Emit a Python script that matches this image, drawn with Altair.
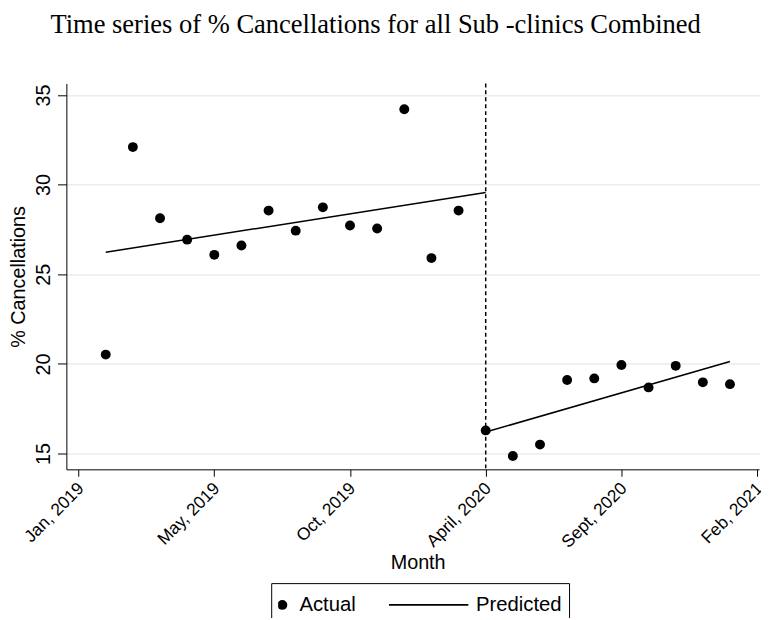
import altair as alt
import pandas as pd

# ---- data ----
month_index = list(range(1, 25))
pct_cancel = [20.52, 32.09, 28.12, 26.93, 26.08, 26.60, 28.55, 27.43, 28.73, 27.72,
              27.55, 34.20, 25.90, 28.55,
              16.29, 14.86, 15.50, 19.10, 19.19, 19.94, 18.69, 19.89, 18.97, 18.87]
pred_index = [1, 15, 15, 24]
pred_value = [26.23, 29.56, 16.20, 20.13]
pred_segment = ["Pre", "Pre", "Post", "Post"]
tick_positions = [0, 5, 10, 15, 20, 25]
tick_labels = ["Jan, 2019", "May, 2019", "Oct, 2019", "April, 2020", "Sept, 2020", "Feb, 2021"]
y_ticks = [15, 20, 25, 30, 35]
interruption = [15]
series_names = ["Actual", "Predicted"]

actual_df = pd.DataFrame({"month": month_index, "pct": pct_cancel,
                          "series": ["Actual"] * len(month_index)})
pred_df = pd.DataFrame({"month": pred_index, "pct": pred_value, "segment": pred_segment})
rule_df = pd.DataFrame({"month": interruption})

label_expr = ("[" + ",".join(f"'{t}'" for t in tick_labels) + "][indexof(["
              + ",".join(str(p) for p in tick_positions) + "], datum.value)]")

SANS = "Liberation Sans"
LINE_SYMBOL = "M-1,-0.02L1,-0.02L1,0.02L-1,0.02Z"

x_scale = alt.Scale(domain=[-0.45, 25.07], nice=False, zero=False)
y_scale = alt.Scale(domain=[14.12, 35.64], nice=False, zero=False)

x_axis = alt.Axis(values=tick_positions, labelExpr=label_expr, title="Month", grid=False,
                  labelAngle=315, labelAlign="right", labelBaseline="top", labelPadding=3,
                  labelOffset=-4, tickSize=7, labelFontSize=17.5, labelFont=SANS,
                  labelColor="black", titleFont=SANS, titleFontSize=20, titleFontWeight="normal",
                  titleColor="black", titleX=355, titleY=100, titleBaseline="alphabetic",
                  labelFlush=False, labelOverlap=False)
y_axis = alt.Axis(values=y_ticks, title="% Cancellations", grid=True, gridColor="#e6eef1",
                  gridWidth=1.5, labelAngle=270, labelAlign="center", labelBaseline="alphabetic",
                  labelPadding=8, tickSize=9, labelFontSize=20, labelFont=SANS, labelColor="black",
                  titleFont=SANS, titleFontSize=20, titleFontWeight="normal", titleColor="black",
                  titleAngle=270, titleX=-42, titleBaseline="alphabetic", labelFlush=False,
                  labelOverlap=False)

legend = alt.Legend(orient="none", legendX=207, legendY=505, direction="horizontal",
                    title=None, strokeColor="black", padding=7, labelFont=SANS,
                    labelFontSize=20.5, labelColor="black", labelOffset=7, columnPadding=33,
                    clipHeight=30, symbolOffset=-6, symbolFillColor="black")

rule = alt.Chart(rule_df).mark_rule(color="black", strokeDash=[4, 3], strokeWidth=1.5).encode(
    x=alt.X("month:Q", scale=x_scale, axis=x_axis)
)

lines = alt.Chart(pred_df).mark_line(color="black", strokeWidth=1.5).encode(
    x=alt.X("month:Q", scale=x_scale, axis=x_axis),
    y=alt.Y("pct:Q", scale=y_scale, axis=y_axis),
    detail="segment:N",
)

points = alt.Chart(actual_df).mark_point(filled=True, color="black", opacity=1).encode(
    x=alt.X("month:Q", scale=x_scale, axis=x_axis),
    y=alt.Y("pct:Q", scale=y_scale, axis=y_axis),
    shape=alt.Shape("series:N", scale=alt.Scale(domain=series_names, range=["circle", LINE_SYMBOL]),
                    legend=legend),
    size=alt.Size("series:N", scale=alt.Scale(domain=series_names, range=[100, 7300]),
                  legend=legend),
)

chart = alt.layer(rule, lines, points).properties(
    width=700, height=390,
    title=alt.TitleParams(text="Time series of % Cancellations for all Sub -clinics Combined",
                          font="Liberation Serif", fontSize=26.8, fontWeight="normal",
                          color="black", anchor="middle", frame="group", dx=-37.5,
                          baseline="alphabetic", offset=23),
    autosize=alt.AutoSizeParams(type="none"),
    padding={"left": 59, "top": 73, "right": 2, "bottom": 147},
).configure_view(stroke=None).configure_axis(
    domainColor="black", tickColor="black", domainWidth=1, tickWidth=1
)

chart.save("out.html", embed_options={"renderer": "svg", "actions": False})
